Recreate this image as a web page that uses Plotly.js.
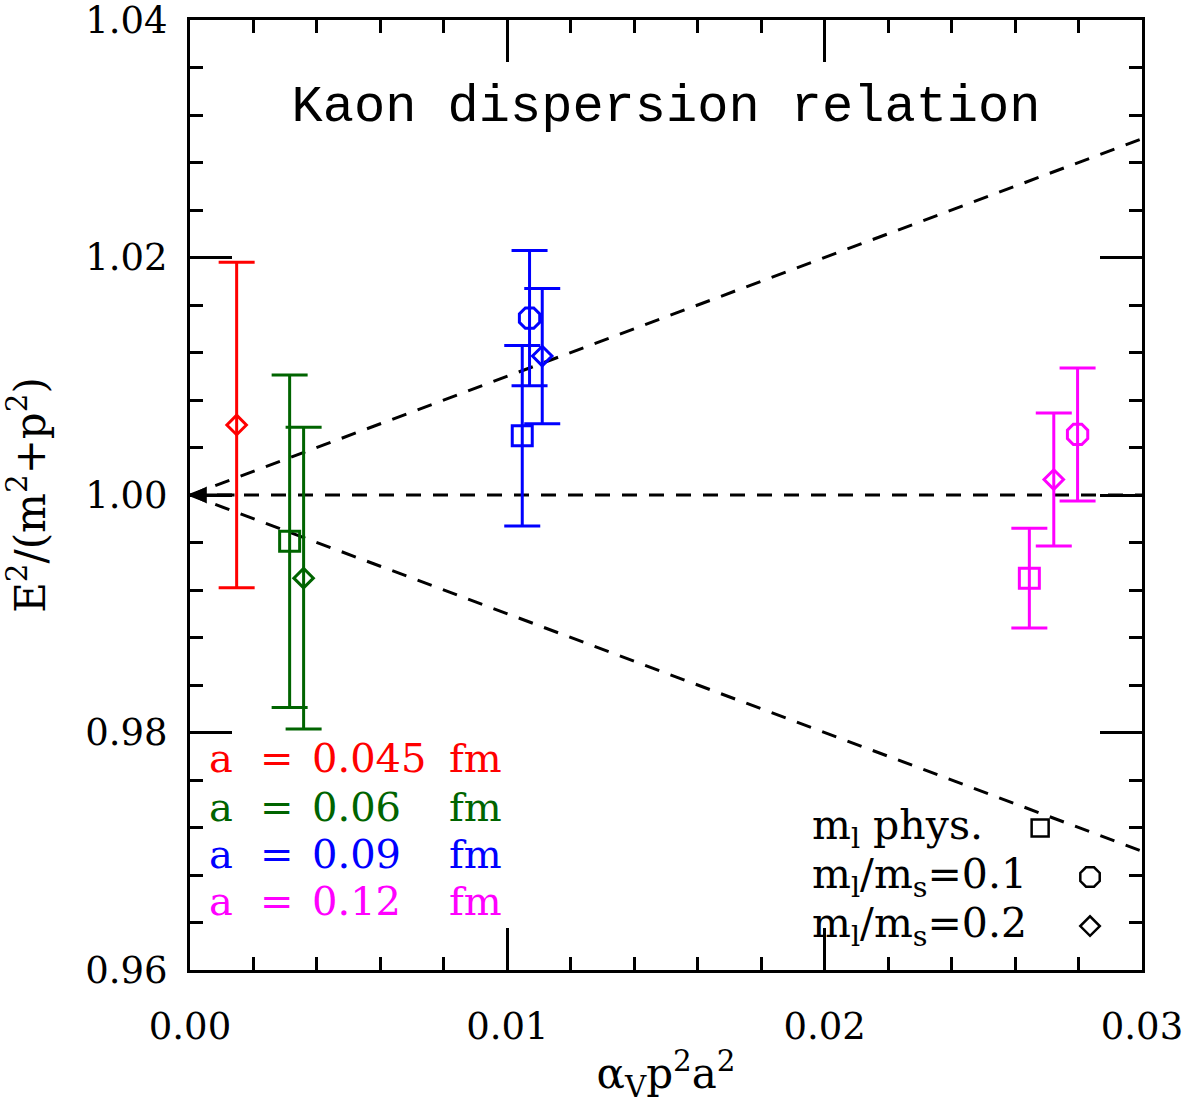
<!DOCTYPE html>
<html>
<head>
<meta charset="utf-8">
<script src="https://cdn.plot.ly/plotly-3.0.1.min.js"></script>
<style>
  html, body { margin: 0; padding: 0; background: #fff; }
  #chart { width: 1188px; height: 1105px; }
</style>
</head>
<body>
<div id="chart"></div>
<script>
// Kaon dispersion relation: E^2/(m^2+p^2) versus alpha_V p^2 a^2

// a = 0.045 fm
const x045 = [0.00147];
const y045 = [1.0059];
const e045 = [0.0137];
const s045 = ['diamond-open'];

// a = 0.06 fm
const x06 = [0.00314, 0.00358];
const y06 = [0.9961, 0.9930];
const e06 = [0.0140, 0.0127];
const s06 = ['square-open', 'diamond-open'];

// a = 0.09 fm
const x09 = [0.01047, 0.01070, 0.01110];
const y09 = [1.0050, 1.0149, 1.0117];
const e09 = [0.0076, 0.0057, 0.0057];
const s09 = ['square-open', 'octagon-open', 'diamond-open'];

// a = 0.12 fm
const x12 = [0.02645, 0.02722, 0.02797];
const y12 = [0.9930, 1.0013, 1.0051];
const e12 = [0.0042, 0.0056, 0.0056];
const s12 = ['square-open', 'diamond-open', 'octagon-open'];

// reference lines: exact relation and a +/- 1 * alpha_V p^2 a^2 band
const lineX = [0, 0.03];
const lineFlat = [1.00, 1.00];
const lineUp = [1.00, 1.03];
const lineDown = [1.00, 0.97];

// tick labels
const xTicks = [0, 0.01, 0.02, 0.03];
const xTickText = ['0.00', '0.01', '0.02', '0.03'];
const yTicks = [0.96, 0.98, 1.00, 1.02, 1.04];
const yTickText = ['0.96', '0.98', '1.00', '1.02', '1.04'];

// spacing labels
const spacingPrefix = ['a', 'a', 'a', 'a'];
const spacingValue = ['0.045', '0.06', '0.09', '0.12'];
const spacingUnit = ['fm', 'fm', 'fm', 'fm'];
const spacingColor = ['#ff0000', '#006400', '#0000ff', '#ff00ff'];

// symbol key
const keyText = ['m<sub>l</sub> phys.', 'm<sub>l</sub>/m<sub>s</sub>=0.1', 'm<sub>l</sub>/m<sub>s</sub>=0.2'];
const keySymbol = ['square-open', 'octagon-open', 'diamond-open'];

const SERIF = 'DejaVu Serif, Liberation Serif, serif';

function refLine(y) {
  return {
    x: lineX, y: y, type: 'scatter', mode: 'lines',
    line: { color: '#000', width: 3, dash: '15px,12px' },
    hoverinfo: 'skip', showlegend: false
  };
}

function points(x, y, e, sym, color) {
  return {
    x: x, y: y, type: 'scatter', mode: 'markers',
    marker: {
      symbol: sym,
      size: sym.map(s => s.startsWith('diamond') ? 15 : (s.startsWith('octagon') ? 22 : 20)),
      opacity: 1,
      color: color,
      line: { color: color, width: 3 }
    },
    error_y: { type: 'data', array: e, visible: true, color: color, thickness: 3, width: 18 },
    showlegend: false
  };
}

// key markers live on an overlay axis spanning 0..1 of the plotting area
const keyX = [0.893, 0.9454, 0.9454];
const keyY = [0.1495, 0.0979, 0.0463];
const keyTrace = {
  x: keyX, y: keyY, xaxis: 'x2', yaxis: 'y2', type: 'scatter', mode: 'markers',
  marker: {
    symbol: keySymbol,
    size: [17, 21, 15],
    opacity: 1,
    color: '#000',
    line: { color: '#000', width: 2.5 }
  },
  hoverinfo: 'skip', showlegend: false
};

const data = [
  refLine(lineFlat), refLine(lineUp), refLine(lineDown),
  points(x045, y045, e045, s045, spacingColor[0]),
  points(x06, y06, e06, s06, spacingColor[1]),
  points(x09, y09, e09, s09, spacingColor[2]),
  points(x12, y12, e12, s12, spacingColor[3]),
  keyTrace
];

const annotations = [];
const rowY = [0.2232, 0.1716, 0.1221, 0.0726];
const colX = [0.0179, 0.0714, 0.126, 0.270];
spacingValue.forEach((v, i) => {
  const cells = [spacingPrefix[i], '=', v, spacingUnit[i]];
  cells.forEach((t, j) => {
    annotations.push({
      xref: 'paper', yref: 'paper', x: colX[j], y: rowY[i],
      xanchor: 'left', yanchor: 'middle', showarrow: false, text: t,
      font: { family: SERIF, size: 40, color: spacingColor[i] }
    });
  });
});

keyText.forEach((t, i) => {
  annotations.push({
    xref: 'paper', yref: 'paper', x: 0.651, y: keyY[i],
    xanchor: 'left', yanchor: 'middle', showarrow: false, text: t,
    font: { family: SERIF, size: 41, color: '#000' }
  });
});

// arrow marking the continuum value
annotations.push({
  x: lineX[0], y: lineFlat[0], xref: 'x', yref: 'y',
  ax: 46, ay: 0, text: '', showarrow: true,
  arrowhead: 2, arrowsize: 1.2, arrowwidth: 2.8, arrowcolor: '#000', standoff: 0
});

const axisCommon = {
  showline: true, linecolor: '#000', linewidth: 3, mirror: 'ticks',
  ticks: 'inside', ticklen: 42, tickwidth: 3, tickcolor: '#000',
  showgrid: false, zeroline: false,
  ticklabeloverflow: 'allow',
  tickfont: { family: SERIF, size: 37, color: '#000' }
};

const layout = {
  width: 1188, height: 1105,
  margin: { l: 190, r: 46, t: 20, b: 135 },
  paper_bgcolor: '#fff', plot_bgcolor: '#fff',
  showlegend: false,
  title: {
    text: 'Kaon dispersion relation',
    font: { family: 'Liberation Mono, monospace', size: 52, color: '#000' },
    xref: 'paper', x: 0.5, xanchor: 'center',
    yref: 'container', y: 1 - 103 / 1105, yanchor: 'middle'
  },
  xaxis: Object.assign({}, axisCommon, {
    range: [0, 0.03], tickvals: xTicks, ticktext: xTickText,
    ticklabelstandoff: 22,
    minor: { dtick: 0.002, ticklen: 13, tickwidth: 3, tickcolor: '#000', ticks: 'inside' },
    title: { text: 'α<sub>V</sub>p<sup>2</sup>a<sup>2</sup>', font: { family: SERIF, size: 42, color: '#000' }, standoff: 12 }
  }),
  yaxis: Object.assign({}, axisCommon, {
    range: [0.96, 1.04], tickvals: yTicks, ticktext: yTickText,
    ticklabelstandoff: 12,
    minor: { dtick: 0.004, ticklen: 13, tickwidth: 3, tickcolor: '#000', ticks: 'inside' },
    title: { text: 'E<sup>2</sup>/(m<sup>2</sup>+p<sup>2</sup>)', font: { family: SERIF, size: 42, color: '#000' }, standoff: 30 }
  }),
  xaxis2: { overlaying: 'x', range: [0, 1], visible: false, fixedrange: true },
  yaxis2: { overlaying: 'y', range: [0, 1], visible: false, fixedrange: true },
  annotations: annotations
};

Plotly.newPlot('chart', data, layout, { displayModeBar: false, staticPlot: true });
</script>
</body>
</html>
